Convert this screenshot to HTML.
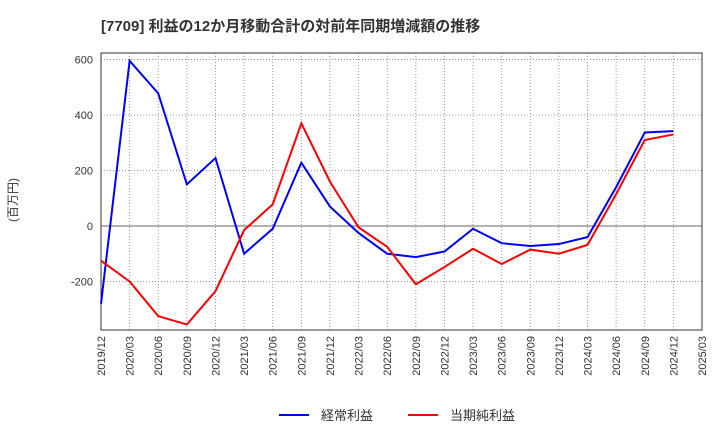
<!DOCTYPE html>
<html><head><meta charset="utf-8"><style>
body{margin:0;background:#fff;font-family:"Liberation Sans","Noto Sans CJK JP",sans-serif;}
</style></head><body>
<svg width="720" height="440" font-family="Liberation Sans, Noto Sans CJK JP, sans-serif">
<text x="101" y="31" font-size="15" font-weight="bold" fill="#333">[7709]  利益の12か月移動合計の対前年同期増減額の推移</text>
<text transform="translate(17,200) rotate(-90)" font-size="12" fill="#333" text-anchor="middle">(百万円)</text>
<g id="grid"></g>
<rect x="101" y="53" width="601" height="277" fill="none" stroke="#333"/>
<g id="marks"></g>
<g>
<line x1="279" y1="415" x2="309" y2="415" stroke="#0000ff" stroke-width="2"/>
<text x="321" y="420" font-size="13" fill="#333">経常利益</text>
<line x1="408" y1="415" x2="438" y2="415" stroke="#ff0000" stroke-width="2"/>
<text x="450" y="420" font-size="13" fill="#333">当期純利益</text>
</g>
</svg>
<script>
const xLabels=["2019/12","2020/03","2020/06","2020/09","2020/12","2021/03","2021/06","2021/09","2021/12","2022/03","2022/06","2022/09","2022/12","2023/03","2023/06","2023/09","2023/12","2024/03","2024/06","2024/09","2024/12","2025/03"];
const yTicks=[-200,0,200,400,600];
const ordinary=[-280,595,478,150,245,-100,-10,228,70,-25,-100,-112,-92,-10,-62,-72,-65,-40,140,337,342];
const net=[-125,-200,-325,-355,-235,-15,78,370,160,-5,-75,-210,-148,-82,-137,-85,-100,-68,115,310,330];
const NS="http://www.w3.org/2000/svg";
const x0=101,x1=702,yTop=53,yBot=330;
const xs=i=>x0+(x1-x0)*i/(xLabels.length-1);
const ys=v=>226-v*(55.5/200);
const grid=document.getElementById('grid'),marks=document.getElementById('marks');
function mk(tag,attrs,parent){const e=document.createElementNS(NS,tag);for(const k in attrs)e.setAttribute(k,attrs[k]);parent.appendChild(e);return e;}
xLabels.forEach((l,i)=>{
  const g=mk('line',{x1:xs(i),x2:xs(i),y1:yTop,y2:yBot,stroke:'#999','stroke-dasharray':'1,2'},grid);
  
  
  const t=mk('text',{transform:`translate(${xs(i)+4},${yBot+6}) rotate(-90)`,'font-size':11,fill:'#333','text-anchor':'end'},grid);
  t.textContent=l;
  
  
});
yTicks.forEach(v=>{
  const g=mk('line',{x1:x0,x2:x1,y1:ys(v),y2:ys(v),stroke:v===0?'#666':'#999','stroke-dasharray':v===0?'':'1,2'},grid);
  
  
  const t=mk('text',{x:x0-8,y:ys(v)+4,'font-size':11,fill:'#333','text-anchor':'end'},grid);
  t.textContent=v;
  
  
});
function line(data,color,name){
  const p=mk('polyline',{points:data.map((v,i)=>xs(i)+','+ys(v)).join(' '),fill:'none',stroke:color,'stroke-width':2},marks);
  
  
}
line(ordinary,'#0000ff','ordinary-profit-line');
line(net,'#ff0000','net-profit-line');
</script>
</body></html>
